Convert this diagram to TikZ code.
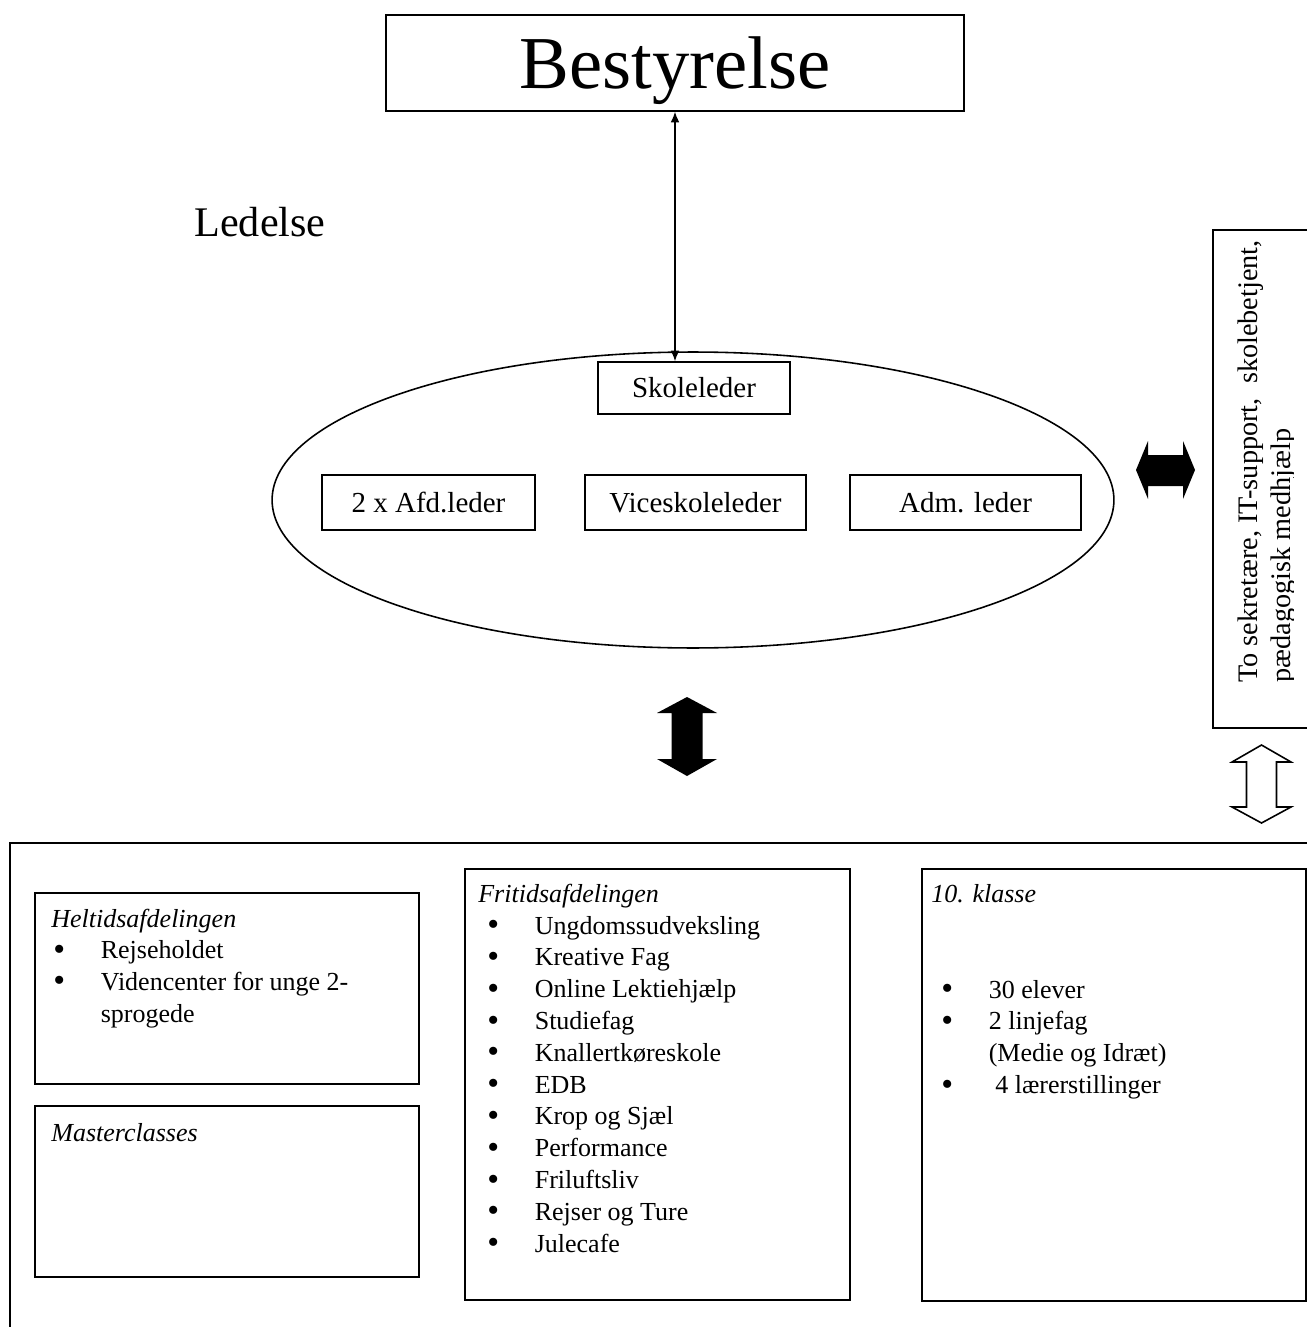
\documentclass[tikz,border=0pt]{standalone}
\usepackage{fontspec}
\setmainfont{Liberation Serif}
\usetikzlibrary{positioning,shapes.geometric,arrows.meta}

\tikzset{
  boks/.style={draw, line width=0.9pt, inner sep=0pt},
  lbox/.style={boks, font=\fontsize{16.5}{19}\selectfont, minimum height=1.1cm},
  afd/.style={boks, anchor=north west},
  titel/.style={anchor=base west, inner sep=0pt, font=\fontsize{14.8}{18.1}\selectfont\itshape},
  liste/.style={anchor=north west, inner sep=0pt, align=left, font=\fontsize{14.8}{18.1}\selectfont},
  blokpil/.style={fill=black},
  hulpil/.style={draw, line width=0.9pt, fill=white}
}
\newcommand{\pkt}{\makebox[27pt][l]{\raisebox{-0.06em}{\scalebox{1.3}{\textbullet}}}}
\newcommand{\ind}{\hspace*{27pt}}

\begin{document}
\begin{tikzpicture}[x=0.02cm, y=-0.02cm]
    \useasboundingbox (0,0) rectangle (1306,1327);
    % ledelse
    \node[boks, minimum width=11.56cm, minimum height=1.92cm, text depth=0pt, font=\fontsize{42.5}{50}\selectfont] (best) at (675,63) {Bestyrelse};
    \node[inner sep=0pt, font=\fontsize{24}{28}\selectfont] (led) at (260,222) {Ledelse};
    \node[draw, ellipse, line width=0.9pt, minimum width=16.84cm, minimum height=5.92cm] (ring) at (693,500) {};
    \node[boks, minimum width=3.84cm, minimum height=1.04cm, font=\fontsize{16.5}{19}\selectfont] (skole) at (694,388) {Skoleleder};
    \node[lbox, minimum width=4.26cm] (afdl) at (428.5,502.5) {2 x Afd.leder};
    \node[lbox, minimum width=4.42cm] (vice) at (695.5,502.5) {Viceskoleleder};
    \node[lbox, minimum width=4.62cm] (adm) at (965.5,502.5) {Adm. leder};
    \draw[line width=0.8pt, {Latex[length=6pt,width=5pt]}-{Latex[length=6pt,width=5pt]}] (best.south) -- (best.south |- skole.north);
    % pile
    \fill[blokpil] (1136,470) -- (1148,441) -- (1148,455) -- (1183,455) -- (1183,441) -- (1195,470)
        -- (1183,499) -- (1183,486) -- (1148,486) -- (1148,499) -- cycle;
    \fill[blokpil] (687,697) -- (717,713) -- (702.5,713) -- (702.5,759) -- (717,759) -- (687,776)
        -- (657,759) -- (671.5,759) -- (671.5,713) -- (657,713) -- cycle;
    \draw[hulpil] (1261.5,745) -- (1291,762) -- (1276.5,762) -- (1276.5,807) -- (1291,807) -- (1261.5,823)
        -- (1232,807) -- (1246.5,807) -- (1246.5,762) -- (1232,762) -- cycle;
    % personale
    \draw[line width=0.9pt] (1213,230) rectangle (1340,728);
    \begin{scope}
        \clip (1215,232) rectangle (1293,726);
        \node[rotate=90, anchor=north west, inner sep=0pt, align=left, font=\fontsize{16.1}{18.7}\selectfont] (stab) at (1233.9,683)
            {\strut To sekretære, IT-support,\ \ skolebetjent,\\pædagogisk medhjælp};
    \end{scope}
    % afdelinger
    \draw[line width=0.9pt] (10,843) rectangle (1340,1360);
    \node[afd, minimum width=7.68cm, minimum height=3.82cm] (heltid) at (34,892) {};
    \node[afd, minimum width=7.68cm, minimum height=3.42cm] (master) at (34,1105) {};
    \node[afd, minimum width=7.70cm, minimum height=8.62cm] (fritid) at (464,868) {};
    \node[afd, minimum width=7.68cm, minimum height=8.64cm] (tiende) at (921,868) {};
    \node[titel] (heltidT) at (51,927) {Heltidsafdelingen};
    \node[liste] (heltidL) at (53,936) {\strut\pkt Rejseholdet\\\pkt Videncenter for unge 2-\\\ind sprogede};
    \node[titel] (masterT) at (51,1141) {Masterclasses};
    \node[titel] (fritidT) at (478,902) {Fritidsafdelingen};
    \node[liste] (fritidL) at (487,911.5) {\strut\pkt Ungdomssudveksling\\\pkt Kreative Fag\\\pkt Online Lektiehjælp\\
        \pkt Studiefag\\\pkt Knallertkøreskole\\\pkt EDB\\\pkt Krop og Sjæl\\\pkt Performance\\
        \pkt Friluftsliv\\\pkt Rejser og Ture\\\pkt Julecafe};
    \node[titel] (tiendeT) at (931,902) {10. klasse};
    \node[liste] (tiendeL) at (941,975.5) {\strut\pkt 30 elever\\\pkt 2 linjefag\\\ind (Medie og Idræt)\\\pkt\ 4 lærerstillinger};
\end{tikzpicture}
\end{document}
